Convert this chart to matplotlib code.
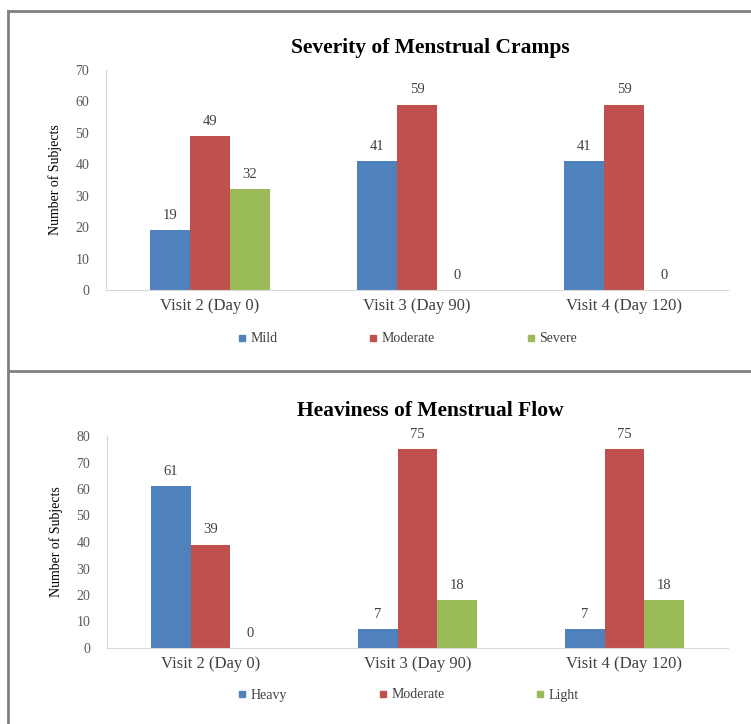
import matplotlib
matplotlib.use("Agg")
import matplotlib.pyplot as plt
import numpy as np
from matplotlib.lines import Line2D

plt.rcParams['font.family'] = ['Liberation Serif', 'DejaVu Serif']

# Visits on the x axis
visits = ["Visit 2 (Day 0)", "Visit 3 (Day 90)", "Visit 4 (Day 120)"]

# Severity of menstrual cramps
cramp_series = ["Mild", "Moderate", "Severe"]
cramp_mild = [19, 41, 41]
cramp_moderate = [49, 59, 59]
cramp_severe = [32, 0, 0]
cramp_ticks = [0, 10, 20, 30, 40, 50, 60, 70]

# Heaviness of menstrual flow
flow_series = ["Heavy", "Moderate", "Light"]
flow_heavy = [61, 7, 7]
flow_moderate = [39, 75, 75]
flow_light = [0, 18, 18]
flow_ticks = [0, 10, 20, 30, 40, 50, 60, 70, 80]

colors = ["#4F81BD", "#C0504D", "#9BBB59"]

W, H = 751, 724
fig = plt.figure(figsize=(W / 100, H / 100), dpi=100)


def px_rect(left, top, right, bottom):
    return [left / W, 1 - bottom / H, (right - left) / W, (bottom - top) / H]


def draw_panel(rect, title, title_y, series_names, values, ticks, legend_y):
    ax = fig.add_axes(rect)
    x = np.arange(len(visits))
    width = 0.193
    for i, (name, vals) in enumerate(zip(series_names, values)):
        pos = x + (i - 1) * width
        bars = ax.bar(pos, vals, width=width, color=colors[i], label=name,
                      edgecolor="none")
        for b, v in zip(bars, vals):
            ax.annotate(str(v), (b.get_x() + b.get_width() / 2, v),
                        xytext=(0, 6), textcoords="offset points",
                        ha="center", va="bottom", fontsize=10.5, color="#404040")
    ax.set_xlim(-0.5, len(visits) - 0.5)
    ax.set_ylim(ticks[0], ticks[-1])
    ax.set_yticks(ticks)
    ax.set_xticks(x)
    ax.set_xticklabels(visits, fontsize=12, color="#404040")
    ax.tick_params(axis="y", length=0, pad=12, labelsize=10, labelcolor="#595959")
    ax.tick_params(axis="x", length=0, pad=6)
    for s in ["top", "right"]:
        ax.spines[s].set_visible(False)
    for s in ["left", "bottom"]:
        ax.spines[s].set_color("#D9D9D9")
        ax.spines[s].set_linewidth(0.8)
    ax.set_ylabel("Number of Subjects", fontsize=10, color="#000000", labelpad=10)

    fig.text(430 / W, 1 - title_y / H, title, ha="center", va="center",
             fontsize=15.5, fontweight="bold", color="#000000")

    handles = [Line2D([], [], marker="s", linestyle="none", markersize=5,
                      color=c) for c in colors]
    fig.legend(handles, series_names, loc="center left",
               bbox_to_anchor=(238 / W, 1 - legend_y / H), ncol=3,
               frameon=False, fontsize=10, handlelength=0.6,
               handletextpad=0.3, columnspacing=6.6, borderaxespad=0,
               borderpad=0, labelcolor="#404040")
    return ax


draw_panel(px_rect(106, 70, 728, 290), "Severity of Menstrual Cramps", 48,
           cramp_series, [cramp_mild, cramp_moderate, cramp_severe],
           cramp_ticks, 339)
draw_panel(px_rect(107, 436, 728, 648), "Heaviness of Menstrual Flow", 411,
           flow_series, [flow_heavy, flow_moderate, flow_light],
           flow_ticks, 695)

# Panel frame lines
border = dict(color="#808080", linewidth=2, transform=fig.transFigure)
fig.add_artist(Line2D([8 / W, 1], [1 - 11 / H, 1 - 11 / H], **border))
fig.add_artist(Line2D([8 / W, 8 / W], [1 - 11 / H, 0], **border))
fig.add_artist(Line2D([8 / W, 1], [1 - 371 / H, 1 - 371 / H], **border))

fig.savefig("out.png", dpi=100, facecolor="white")
